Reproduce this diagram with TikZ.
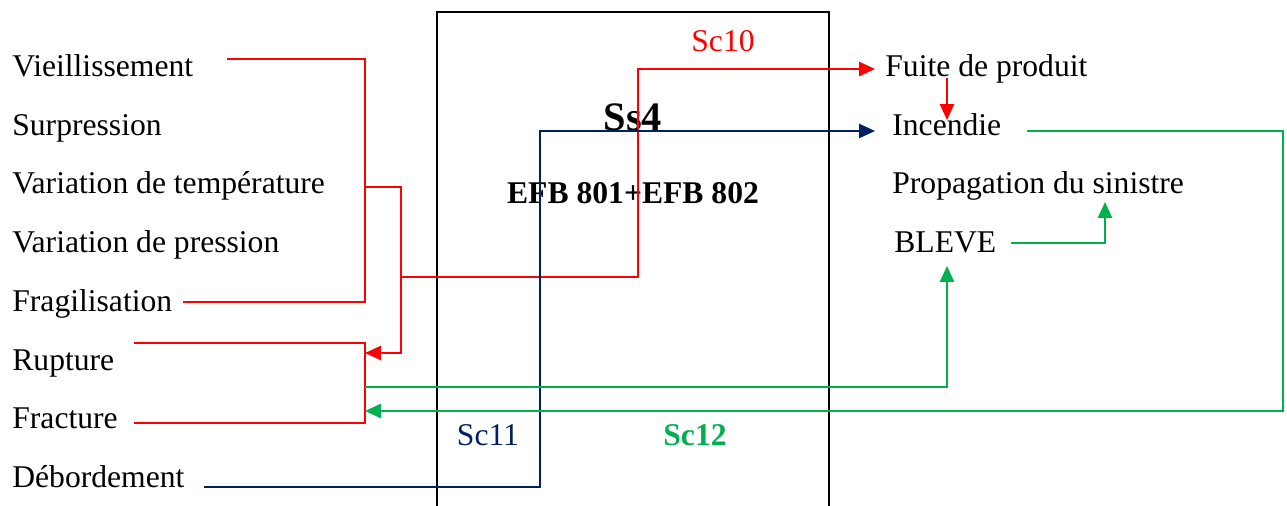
\documentclass[tikz,border=0pt]{standalone}
\usepackage{fontspec}
\setmainfont{Liberation Serif}
\usepackage{tikz}
\usetikzlibrary{arrows.meta}
\definecolor{rouge}{HTML}{FF0000}
\definecolor{marine}{HTML}{002060}
\definecolor{vert}{HTML}{00B050}

\begin{document}
\begin{tikzpicture}[x=0.02cm, y=-0.02cm,
    lbl/.style={anchor=base west, inner sep=0pt, font=\fontsize{18}{22}\selectfont},
    tag/.style={anchor=base, inner sep=0pt, font=\fontsize{18}{22}\selectfont},
    fl/.style={line width=1.1pt},
    pfeil/.style={fl, -{Triangle[length=9pt,width=8pt]}}]
  \useasboundingbox (0,0) rectangle (1287,506);

  % Kasten Ss4
  \draw[line width=0.8pt] (437,512) -- (437,12) -- (829,12) -- (829,512);
  \node[tag, font=\fontsize{23}{26}\selectfont\bfseries] (ss) at (633,131) {Ss4};
  \node[tag, font=\fontsize{18}{22}\selectfont\bfseries] (efb) at (633,204) {EFB 801+EFB 802};

  % Ursachen links
  \node[lbl] (vieil)  at (12,77)  {Vieillissement};
  \node[lbl] (surp)   at (12,136) {Surpression};
  \node[lbl] (vtemp)  at (12,194) {Variation de température};
  \node[lbl] (vpres)  at (12,253) {Variation de pression};
  \node[lbl] (fragil) at (12,312) {Fragilisation};
  \node[lbl] (rupt)   at (12,370) {Rupture};
  \node[lbl] (fract)  at (12,428) {Fracture};
  \node[lbl] (debord) at (12,487) {Débordement};

  % Folgen rechts
  \node[lbl] (fuite)  at (885,77)  {Fuite de produit};
  \node[lbl] (incend) at (892,136) {Incendie};
  \node[lbl] (propag) at (892,194) {Propagation du sinistre};
  \node[lbl] (bleve)  at (894,253) {BLEVE};

  % Szenarien
  \node[tag, text=rouge] (sc10) at (723,52) {Sc10};
  \node[tag, text=marine] (sc11) at (488,445) {Sc11};
  \node[tag, text=vert, font=\fontsize{18}{22}\selectfont\bfseries] (sc12) at (695,445) {Sc12};

  % Anschlusspunkte
  \coordinate (vEnd) at ([shift={(215,-18)}]vieil.base west);
  \coordinate (fEnd) at ([shift={(171,-10)}]fragil.base west);
  \coordinate (rEnd) at ([shift={(122,-27)}]rupt.base west);
  \coordinate (frEnd) at ([shift={(122,-5)}]fract.base west);
  \coordinate (dEnd) at ([shift={(192,0)}]debord.base west);
  \coordinate (fuIn) at ([shift={(-10,-8)}]fuite.base west);
  \coordinate (inIn) at ([shift={(-17,-5)}]incend.base west);
  \coordinate (inOut) at ([shift={(135,-5)}]incend.base west);
  \coordinate (blIn) at ([shift={(53,13)}]bleve.base west);
  \coordinate (blOut) at ([shift={(117,-10)}]bleve.base west);
  \coordinate (prIn) at ([shift={(213,8)}]propag.base west);

  % Sc10 (rot)
  \draw[fl, rouge] (vEnd) -- (365,59) -- (365,302) -- (fEnd);
  \draw[pfeil, rouge] (365,187) -- (401,187) -- (401,353) -- (365,353);
  \draw[fl, rouge] (rEnd) -- (365,343) -- (365,423) -- (frEnd);
  \draw[pfeil, rouge] (401,277) -- (638,277) |- (fuIn);
  \draw[pfeil, rouge] ([shift={(62,1)}]fuite.base west) -- ([shift={(55,-16)}]incend.base west);

  % Sc11 (blau)
  \draw[pfeil, marine] (dEnd) -- (540,487) |- (inIn);

  % Sc12 (gruen)
  \draw[pfeil, vert] (365,387) -| (blIn);
  \draw[pfeil, vert] (inOut) -| (1283,411) -- (365,411);
  \draw[pfeil, vert] (blOut) -| (prIn);
\end{tikzpicture}
\end{document}
